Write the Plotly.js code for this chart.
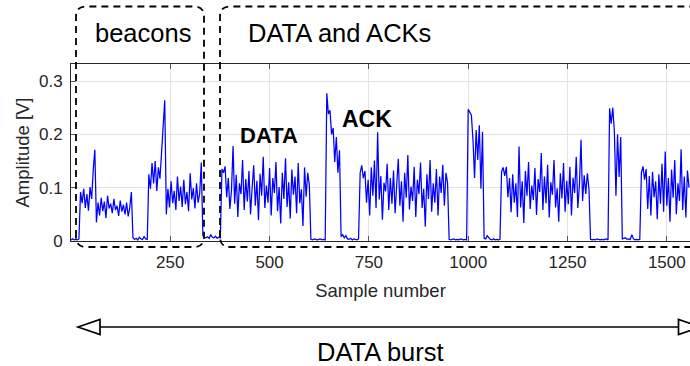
<!DOCTYPE html>
<html>
<head>
<meta charset="utf-8">
<script src="https://cdn.plot.ly/plotly-3.0.1.min.js"></script>
<style>
  html, body { margin: 0; padding: 0; background: #ffffff; }
  #chart { width: 690px; height: 366px; }
</style>
</head>
<body>
<div id="chart"></div>
<script>
// ---- Data (amplitude in volts, one value every SAMPLE_STEP samples) ----
const SAMPLE_STEP = 4;

const idleStart   = [0.002, 0.004, 0.002, 0.003, 0.002, 0.004];
const beacon1     = [0.092, 0.071, 0.098, 0.062, 0.088, 0.057, 0.101, 0.079];
const beacon1Peak = [0.133, 0.171];
const beacon2     = [0.035, 0.072, 0.048, 0.081, 0.056, 0.074, 0.043, 0.085, 0.061, 0.07, 0.052, 0.079,
                     0.058, 0.066, 0.047, 0.076, 0.055, 0.068, 0.05, 0.072, 0.046, 0.063, 0.092];
const idleBeacon  = [0.006, 0.003, 0.005, 0.002, 0.007, 0.004, 0.003, 0.008, 0.004, 0.003];
const beacon3     = [0.125, 0.098, 0.146, 0.108, 0.15, 0.094, 0.138, 0.117];
const beacon3Peak = [0.172, 0.233, 0.264];
const beacon4     = [0.05, 0.098, 0.063, 0.112, 0.071, 0.094, 0.058, 0.121, 0.075, 0.102, 0.064, 0.115,
                     0.069, 0.092, 0.056, 0.127, 0.078, 0.099, 0.061, 0.108, 0.072, 0.089, 0.147];
const idleGap     = [0.01, 0.007, 0.006, 0.008, 0.005, 0.012, 0.007, 0.006, 0.009, 0.005, 0.007, 0.006];
const data1       = [0.135, 0.128, 0.14, 0.082, 0.118, 0.06, 0.095, 0.178, 0.07, 0.124, 0.045, 0.108,
                     0.088, 0.152, 0.058, 0.116, 0.074, 0.131, 0.05, 0.099, 0.142, 0.066, 0.113, 0.039,
                     0.126, 0.085, 0.158, 0.062, 0.104, 0.072, 0.137, 0.048, 0.118, 0.09, 0.148, 0.056,
                     0.101, 0.033, 0.128, 0.079, 0.155, 0.064, 0.11, 0.042, 0.134, 0.087, 0.121, 0.052,
                     0.146, 0.071, 0.097, 0.028, 0.138, 0.083, 0.128, 0.105];
const idle1       = [0.003, 0.002, 0.004, 0.003, 0.002, 0.003, 0.004, 0.002, 0.003, 0.002];
const ack1        = [0.277, 0.238, 0.245, 0.2, 0.212, 0.148, 0.195, 0.128, 0.17];
const idle2       = [0.008, 0.012, 0.006, 0.01, 0.004, 0.003, 0.005, 0.002, 0.004, 0.003, 0.002, 0.004];
const data2       = [0.128, 0.142, 0.118, 0.131, 0.072, 0.115, 0.048, 0.138, 0.085, 0.151, 0.062, 0.204,
                     0.078, 0.122, 0.04, 0.109, 0.093, 0.145, 0.058, 0.118, 0.07, 0.132, 0.052, 0.105,
                     0.154, 0.066, 0.112, 0.036, 0.128, 0.081, 0.161, 0.059, 0.102, 0.075, 0.139, 0.045,
                     0.115, 0.088, 0.147, 0.062, 0.098, 0.027, 0.125, 0.079, 0.152, 0.055, 0.108, 0.072,
                     0.135, 0.048, 0.121, 0.09, 0.143, 0.066, 0.128, 0.109];
const idle3       = [0.003, 0.002, 0.003, 0.004, 0.002, 0.003, 0.002, 0.004, 0.003, 0.002, 0.003, 0.002];
const ack2        = [0.247, 0.24, 0.236, 0.19, 0.118, 0.208, 0.152, 0.217, 0.098, 0.205];
const idle4       = [0.005, 0.004, 0.01, 0.006, 0.003, 0.002, 0.004, 0.002, 0.003, 0.002, 0.003];
const data3       = [0.13, 0.138, 0.122, 0.139, 0.082, 0.118, 0.054, 0.125, 0.072, 0.108, 0.045, 0.177,
                     0.063, 0.112, 0.034, 0.131, 0.085, 0.148, 0.06, 0.104, 0.077, 0.137, 0.049, 0.116,
                     0.092, 0.165, 0.058, 0.121, 0.071, 0.143, 0.044, 0.11, 0.087, 0.152, 0.063, 0.099,
                     0.036, 0.127, 0.08, 0.146, 0.055, 0.113, 0.069, 0.139, 0.048, 0.119, 0.09, 0.158,
                     0.062, 0.105, 0.19, 0.075, 0.123, 0.088, 0.127, 0.098];
const idle5       = [0.003, 0.002, 0.003, 0.002, 0.004, 0.003, 0.002, 0.003, 0.002, 0.003, 0.004, 0.002];
const ack3        = [0.249, 0.22, 0.25, 0.205, 0.085, 0.2, 0.12, 0.195];
const idle6       = [0.004, 0.005, 0.006, 0.003, 0.004, 0.003, 0.012, 0.004, 0.002, 0.003, 0.002, 0.003];
const data4       = [0.128, 0.14, 0.115, 0.135, 0.06, 0.122, 0.048, 0.13, 0.082, 0.112, 0.041, 0.125,
                     0.07, 0.145, 0.055, 0.168, 0.066, 0.118, 0.036, 0.134, 0.081, 0.152, 0.05, 0.108,
                     0.075, 0.172, 0.058, 0.121, 0.044, 0.132, 0.1];

const xTickVals = [250, 500, 750, 1000, 1250, 1500];
const xTickText = ['250', '500', '750', '1000', '1250', '1500'];
const yTickVals = [0, 0.1, 0.2, 0.3];
const yTickText = ['0', '0.1', '0.2', '0.3'];

const amplitude = [].concat(idleStart, beacon1, beacon1Peak, beacon2, idleBeacon, beacon3, beacon3Peak,
  beacon4, idleGap, data1, idle1, ack1, idle2, data2, idle3, ack2, idle4, data3, idle5, ack3, idle6, data4);
const sampleNumber = amplitude.map((v, i) => i * SAMPLE_STEP);

// ---- Layout geometry (pixels) ----
const W = 690, H = 366;
const M = { l: 71, r: 0, t: 64, b: 125 };
const PW = W - M.l - M.r, PH = H - M.t - M.b;
const px = x => (x - M.l) / PW;          // pixel x -> paper x
const py = y => (H - M.b - y) / PH;      // pixel y -> paper y
const pt = (x, y) => px(x).toFixed(5) + ',' + py(y).toFixed(5);

function roundedBox(x0, y0, x1, y1, r) {
  return 'M' + pt(x0, y1 - r) +
    ' L' + pt(x0, y0 + r) + ' Q' + pt(x0, y0) + ' ' + pt(x0 + r, y0) +
    ' L' + pt(x1 - r, y0) + ' Q' + pt(x1, y0) + ' ' + pt(x1, y0 + r) +
    ' L' + pt(x1, y1 - r) + ' Q' + pt(x1, y1) + ' ' + pt(x1 - r, y1) +
    ' L' + pt(x0 + r, y1) + ' Q' + pt(x0, y1) + ' ' + pt(x0, y1 - r) + ' Z';
}
function triangle(tipX, baseX, cy, half) {
  return 'M' + pt(tipX, cy) + ' L' + pt(baseX, cy - half) + ' L' + pt(baseX, cy + half) + ' Z';
}

const FONT = 'Liberation Sans, Arial, Helvetica, sans-serif';
const AX = '#262626';
const dashLine = { color: '#000000', width: 1.8, dash: '7px,5px' };

const shapes = [
  { type: 'path', xref: 'paper', yref: 'paper', layer: 'above', path: roundedBox(76, 6.5, 204, 247, 10), line: dashLine },
  { type: 'path', xref: 'paper', yref: 'paper', layer: 'above', path: roundedBox(220, 6.5, 730, 247, 10), line: dashLine },
  { type: 'line', xref: 'paper', yref: 'paper', x0: px(85), x1: px(700), y0: py(327), y1: py(327), line: { color: '#000', width: 1.7 } },
  { type: 'path', xref: 'paper', yref: 'paper', path: triangle(78, 100, 327, 7.5), fillcolor: '#ffffff', line: { color: '#000', width: 1.7 } },
  { type: 'path', xref: 'paper', yref: 'paper', path: triangle(700.5, 678.5, 327, 7.5), fillcolor: '#ffffff', line: { color: '#000', width: 1.7 } }
];

const annotations = [
  { text: 'beacons', x: px(143), y: py(33), font: { family: FONT, size: 25.5, color: '#000' } },
  { text: 'DATA and ACKs', x: px(339), y: py(33), font: { family: FONT, size: 25.5, color: '#000' } },
  { text: '<b>DATA</b>', x: px(268.5), y: py(135), font: { family: FONT, size: 22, color: '#000' } },
  { text: '<b>ACK</b>', x: px(367), y: py(119), font: { family: FONT, size: 23, color: '#000' } },
  { text: 'DATA burst', x: px(380.5), y: py(352), font: { family: FONT, size: 25.5, color: '#000' } }
].map(a => Object.assign({ xref: 'paper', yref: 'paper', showarrow: false, xanchor: 'center', yanchor: 'middle' }, a));

const trace = {
  type: 'scatter', mode: 'lines',
  x: sampleNumber, y: amplitude,
  line: { color: '#0000ff', width: 1.25 },
  hoverinfo: 'skip'
};

const layout = {
  width: W, height: H,
  margin: M,
  paper_bgcolor: '#ffffff', plot_bgcolor: '#ffffff',
  showlegend: false,
  font: { family: FONT, color: AX, size: 17 },
  xaxis: {
    range: [0, PW / (99.3 / 250)],
    tickvals: xTickVals, ticktext: xTickText,
    ticks: 'inside', ticklen: 5, tickwidth: 1, tickcolor: '#555',
    showline: true, linecolor: AX, linewidth: 1, mirror: 'ticks',
    showgrid: true, gridcolor: '#e3e3e3', gridwidth: 1,
    zeroline: false,
    tickfont: { family: FONT, size: 17, color: AX },
    ticklabelstandoff: 6,
    title: { text: 'Sample number', font: { family: FONT, size: 18.5, color: AX }, standoff: 12 },
    automargin: false
  },
  yaxis: {
    range: [0, PH / 533.3],
    tickvals: yTickVals, ticktext: yTickText,
    ticks: 'inside', ticklen: 5, tickwidth: 1, tickcolor: '#555',
    showline: true, linecolor: AX, linewidth: 1,
    showgrid: true, gridcolor: '#e3e3e3', gridwidth: 1,
    zeroline: false,
    tickfont: { family: FONT, size: 17, color: AX },
    ticklabelstandoff: 4,
    title: { text: 'Amplitude [V]', font: { family: FONT, size: 18.5, color: AX }, standoff: 4 },
    automargin: false
  },
  shapes: shapes,
  annotations: annotations
};

Plotly.newPlot('chart', [trace], layout, { staticPlot: true, displayModeBar: false });
</script>
</body>
</html>
